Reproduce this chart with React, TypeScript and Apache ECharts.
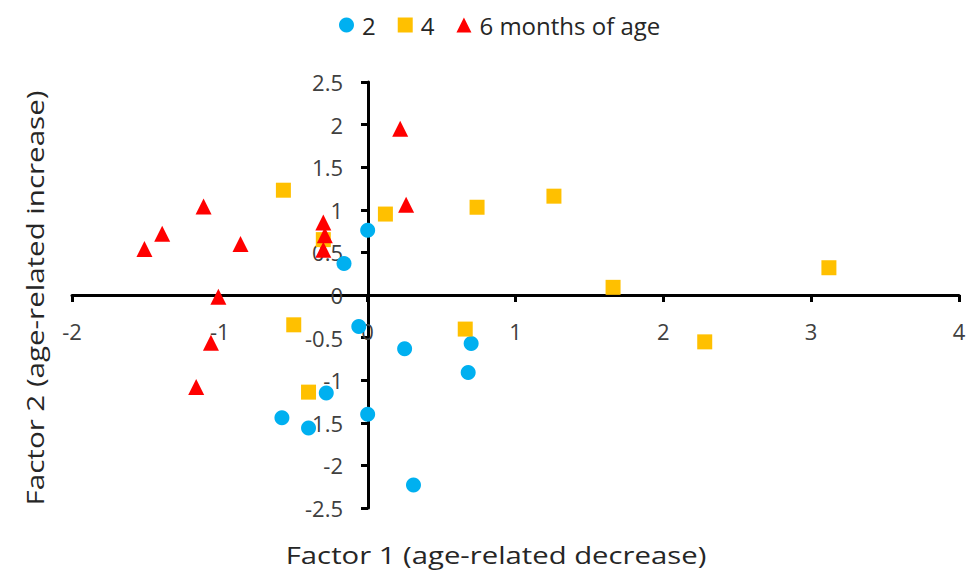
import React, { useEffect, useRef } from "react";
import * as echarts from "echarts";

const seriesNames = ["2", "4", "6 months of age"];
const months2: [number, number][] = [
  [0.0, 0.76], [-0.16, 0.37], [-0.06, -0.37], [0.25, -0.63], [0.7, -0.57],
  [0.68, -0.91], [-0.28, -1.15], [-0.58, -1.44], [-0.4, -1.56], [0.0, -1.4], [0.31, -2.23],
];
const months4: [number, number][] = [
  [-0.57, 1.23], [0.12, 0.95], [0.74, 1.03], [1.26, 1.16], [1.66, 0.09], [3.12, 0.32],
  [2.28, -0.55], [-0.5, -0.35], [0.66, -0.4], [-0.4, -1.14], [-0.3, 0.65],
];
const months6: [number, number][] = [
  [0.22, 1.95], [0.26, 1.06], [-1.11, 1.04], [-1.39, 0.72], [-1.51, 0.54], [-0.86, 0.6],
  [-0.3, 0.85], [-0.29, 0.7], [-0.3, 0.53], [-1.01, -0.02], [-1.06, -0.56], [-1.16, -1.08],
];
const xTitle = "Factor 1 (age-related decrease)";
const yTitle = "Factor 2 (age-related increase)";

const FONT = "'Open Sans', sans-serif";

export default function App() {
  const ref = useRef<HTMLDivElement>(null);
  useEffect(() => {
    if (!ref.current) return;
    const chart = echarts.init(ref.current, undefined, { renderer: "svg" });
    chart.setOption({
      animation: false,
      backgroundColor: "#ffffff",
      textStyle: { fontFamily: FONT },
      legend: {
        top: 8,
        left: 334,
        itemWidth: 15,
        itemHeight: 15,
        itemGap: 22,
        textStyle: { fontSize: 24, color: "#262626", fontFamily: FONT, padding: [0, 0, 0, 3] },
        data: [
          { name: seriesNames[0], icon: "circle" },
          { name: seriesNames[1], icon: "rect" },
          { name: seriesNames[2], icon: "triangle" },
        ],
      },
      grid: { left: 72, right: 11, top: 82, bottom: 65 },
      xAxis: {
        type: "value",
        min: -2,
        max: 4,
        interval: 1,
        position: "bottom",
        offset: -213,
        axisLine: { onZero: false, lineStyle: { color: "#000", width: 3 } },
        axisTick: { show: true, length: 7, lineStyle: { color: "#000", width: 3 } },
        axisLabel: { fontSize: 22, color: "#404040", margin: 25, fontFamily: FONT },
        splitLine: { show: false },
      },
      yAxis: {
        type: "value",
        min: -2.5,
        max: 2.5,
        interval: 0.5,
        position: "left",
        offset: -296,
        axisLine: { onZero: false, lineStyle: { color: "#000", width: 3 } },
        axisTick: { show: true, length: 7, lineStyle: { color: "#000", width: 3 } },
        axisLabel: { fontSize: 22, color: "#404040", margin: 25, fontFamily: FONT },
        splitLine: { show: false },
      },
      graphic: [
        {
          type: "text",
          x: 496,
          y: 555,
          scaleX: 1.22,
          style: {
            text: xTitle,
            fill: "#262626",
            font: `24px ${FONT}`,
            align: "center",
            verticalAlign: "middle",
          },
        },
        {
          type: "text",
          x: 35,
          y: 298,
          rotation: Math.PI / 2,
          scaleX: 1.23,
          style: {
            text: yTitle,
            fill: "#262626",
            font: `24px ${FONT}`,
            align: "center",
            verticalAlign: "middle",
          },
        },
      ],
      series: [
        {
          name: seriesNames[0],
          type: "scatter",
          symbol: "circle",
          symbolSize: 15,
          itemStyle: { color: "#00B0F0", opacity: 1 },
          data: months2,
        },
        {
          name: seriesNames[1],
          type: "scatter",
          symbol: "rect",
          symbolSize: 15,
          itemStyle: { color: "#FFC000", opacity: 1 },
          data: months4,
        },
        {
          name: seriesNames[2],
          type: "scatter",
          symbol: "triangle",
          symbolSize: 16,
          itemStyle: { color: "#FF0000", opacity: 1 },
          data: months6,
        },
      ],
    });
    return () => chart.dispose();
  }, []);
  return (
    <div
      ref={ref}
      style={{ position: "absolute", left: 0, top: 0, width: 970, height: 573 }}
    />
  );
}
